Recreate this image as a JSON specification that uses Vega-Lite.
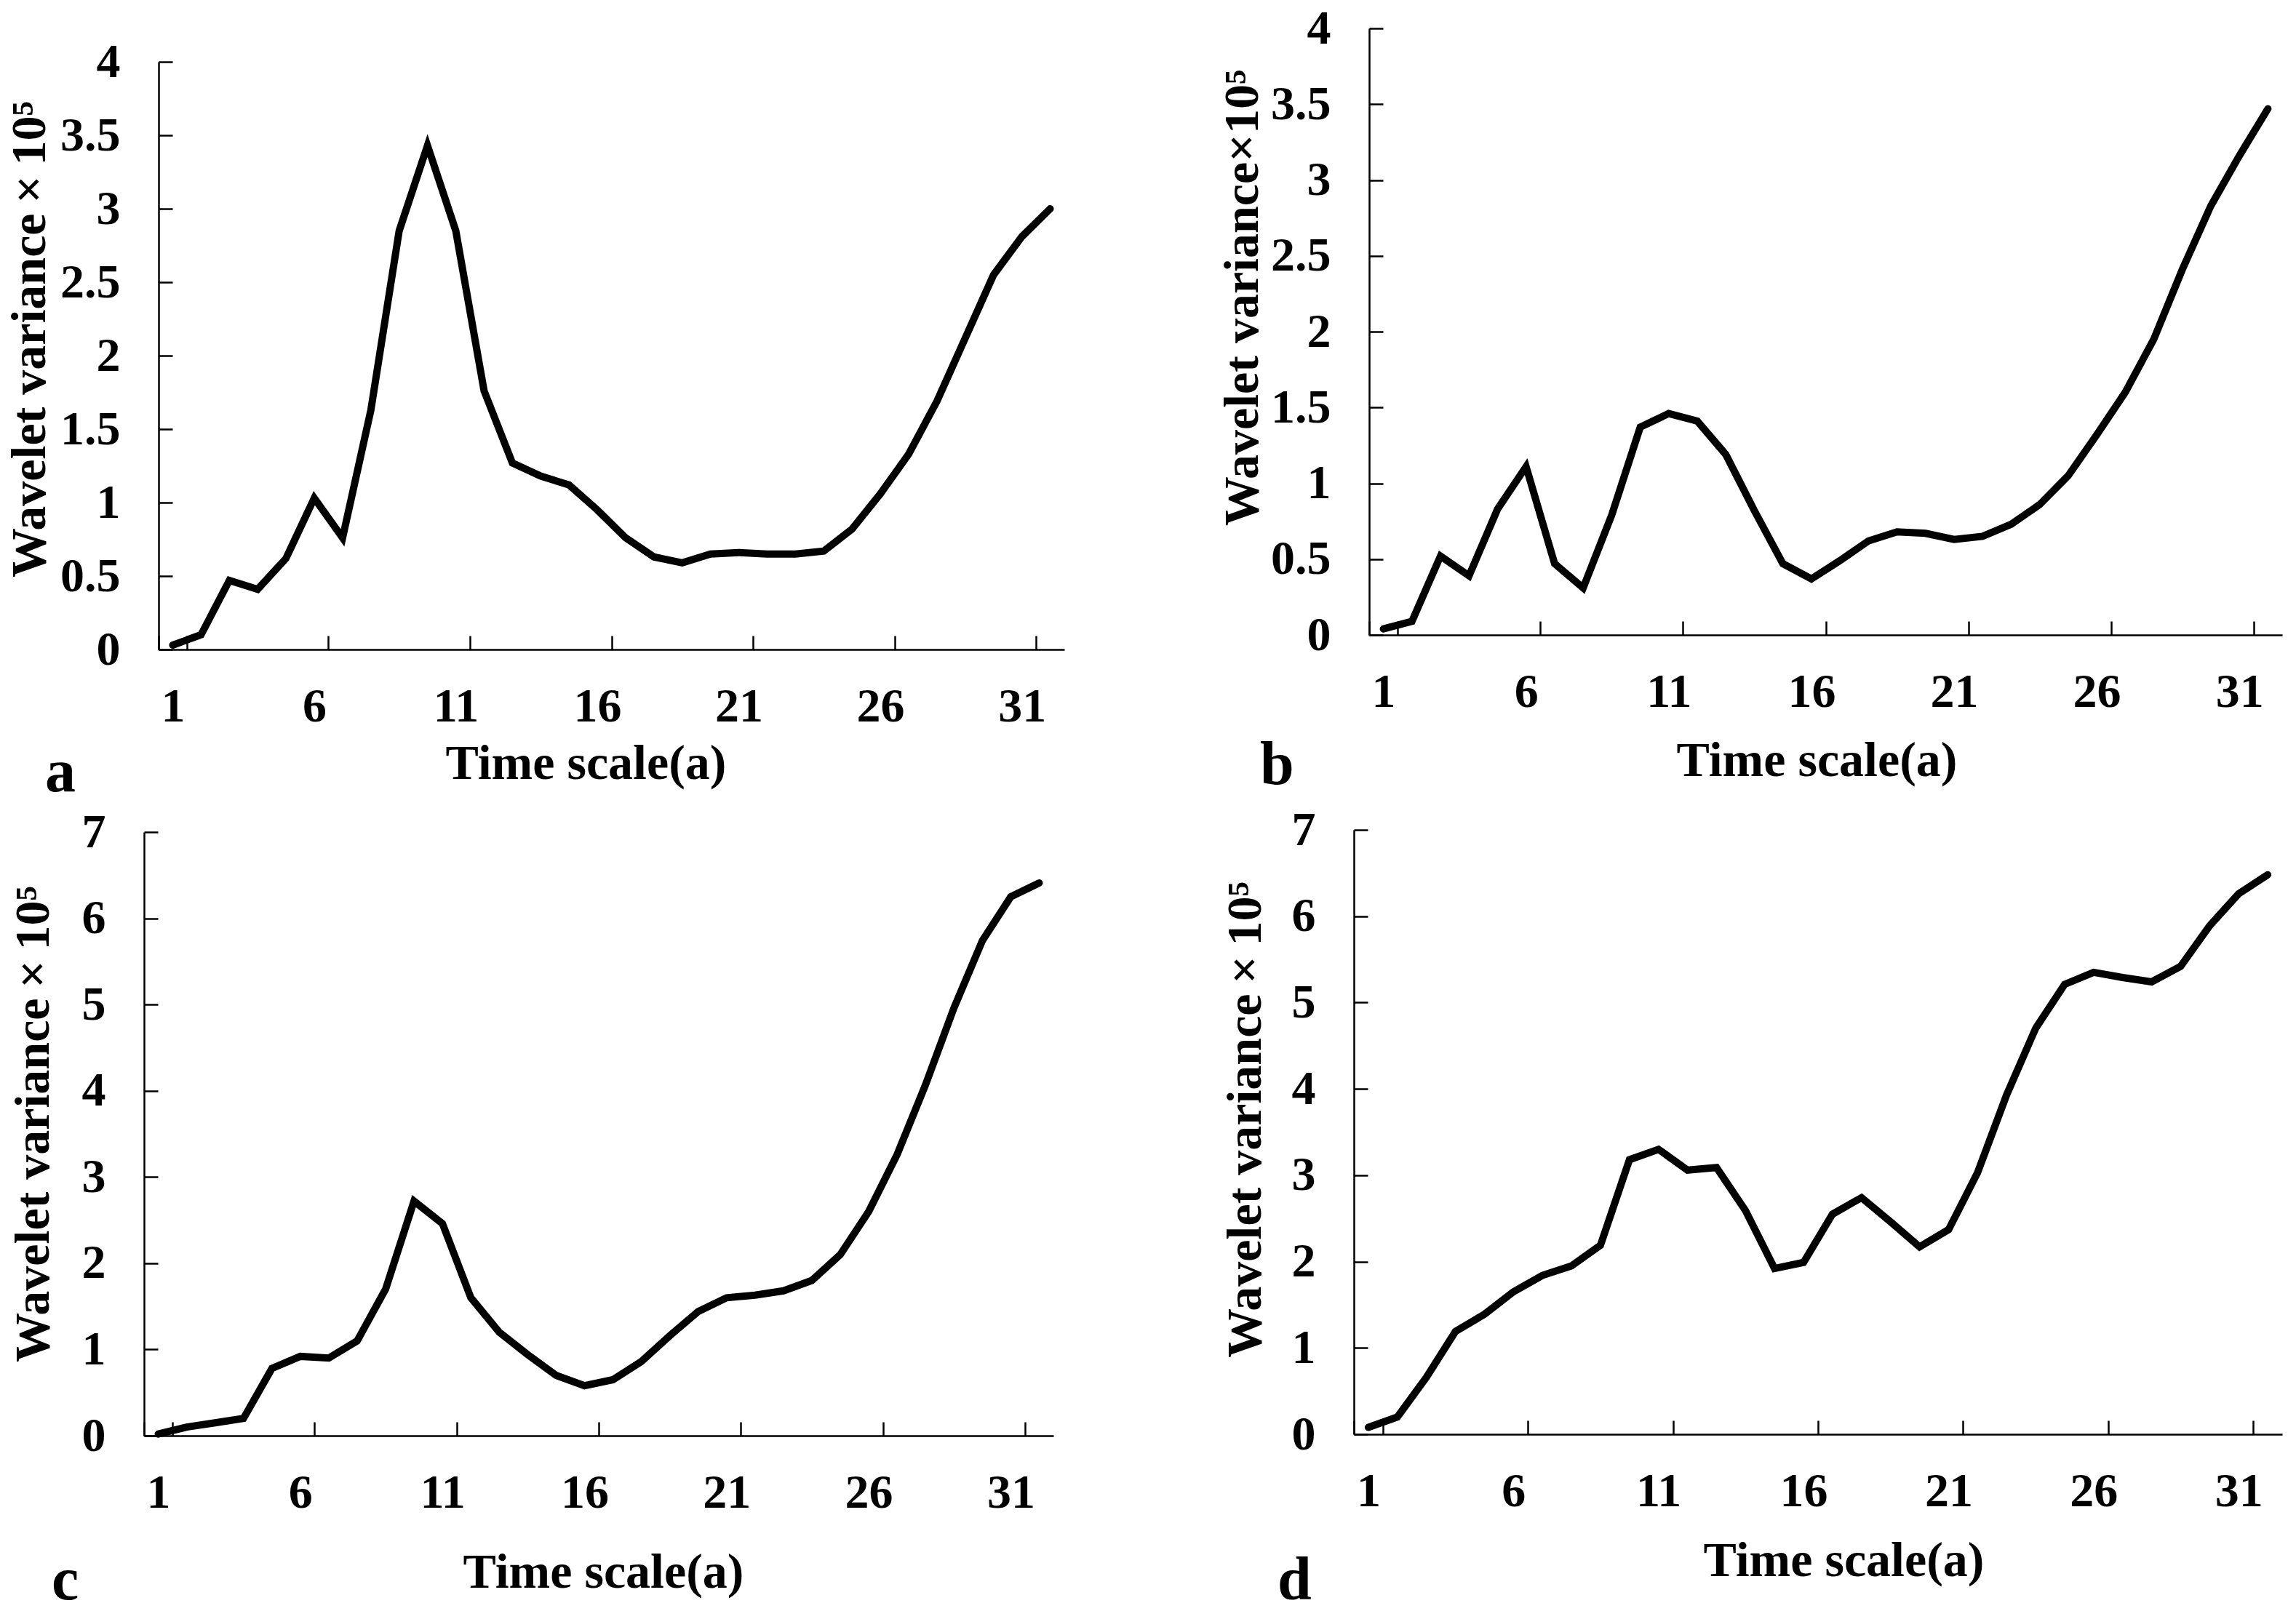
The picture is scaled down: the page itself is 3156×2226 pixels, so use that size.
{
 "$schema": "https://vega.github.io/schema/vega-lite/v6.json",
 "padding": {"left": 7, "top": 6, "right": 0, "bottom": 0},
 "background": "white",
 "config": {
   "font": "Liberation Serif",
   "view": {"stroke": null},
   "axis": {"grid": false, "domainColor": "black", "domainWidth": 2.5, "tickColor": "black", "tickWidth": 2.5, "tickSize": -19, "labelFont": "Liberation Serif", "labelFontSize": 66, "labelFontWeight": "bold", "labelColor": "black", "titleFont": "Liberation Serif", "titleFontSize": 68, "titleFontWeight": "bold", "titleColor": "black"},
   "axisX": {"labelPadding": 65, "labelAngle": 0},
   "axisY": {"labelPadding": 72},
   "title": {"font": "Liberation Serif", "fontSize": 84, "fontWeight": "bold", "color": "black", "orient": "bottom", "anchor": "start", "frame": "bounds"},
   "line": {"color": "black", "strokeWidth": 10, "strokeCap": "round"}
 },
 "spacing": 206,
 "hconcat": [
  {"columns": 1, "align": "none", "spacing": 6, "concat": [
   {"data": {"name": "a"}, "width": 1245, "height": 854,
    "title": {"text": "a", "dx": 55, "dy": -66},
    "mark": "line",
    "encoding": {
     "x": {"field": "t", "type": "ordinal", "bandPosition": 0.5, "scale": {"type": "band", "paddingInner": 0, "paddingOuter": 0},
           "axis": {"values": [1,6,11,16,21,26,31], "tickBand": "extent", "title": "Time scale(a)", "titlePadding": 12, "titleX": 587}},
     "y": {"field": "v", "type": "quantitative", "scale": {"domain": [0,4], "range": [854, 46]},
           "axis": {"values": [0,0.5,1,1.5,2,2.5,3,3.5,4], "format": "~g", "title": "Wavelet variance\u2009\u00d7\u200910\u2075", "titlePadding": 7.5, "titleY": 427}}
    }},
   {"data": {"name": "c"}, "width": 1230, "height": 830,
    "title": {"text": "c", "dx": 59, "dy": -67},
    "mark": "line",
    "encoding": {
     "x": {"field": "t", "type": "ordinal", "bandPosition": 0.5, "scale": {"type": "band", "paddingInner": 0, "paddingOuter": 0, "range": [-20, 1230]},
           "axis": {"values": [1,6,11,16,21,26,31], "tickBand": "extent", "title": "Time scale(a)", "titlePadding": 43, "titleX": 611}},
     "y": {"field": "v", "type": "quantitative", "scale": {"domain": [0,7]},
           "axis": {"values": [0,1,2,3,4,5,6,7], "format": "~g", "offset": 20, "title": "Wavelet variance\u2009\u00d7\u200910\u2075", "titlePadding": 32, "titleY": 401}}
    }}
  ]},
  {"columns": 1, "align": "none", "spacing": 13, "concat": [
   {"data": {"name": "b"}, "width": 1255, "height": 834,
    "title": {"text": "b", "dx": 58, "dy": -72},
    "mark": "line",
    "encoding": {
     "x": {"field": "t", "type": "ordinal", "bandPosition": 0.5, "scale": {"type": "band", "paddingInner": 0, "paddingOuter": 0},
           "axis": {"values": [1,6,11,16,21,26,31], "tickBand": "extent", "title": "Time scale(a)", "titlePadding": 28, "titleX": 615}},
     "y": {"field": "v", "type": "quantitative", "scale": {"domain": [0,4]},
           "axis": {"values": [0,0.5,1,1.5,2,2.5,3,3.5,4], "format": "~g", "title": "Wavelet variance\u00d710\u2075", "titlePadding": 4.5, "titleY": 370}}
    }},
   {"data": {"name": "d"}, "width": 1255, "height": 831,
    "title": {"text": "d", "dx": 78, "dy": -51},
    "mark": "line",
    "encoding": {
     "x": {"field": "t", "type": "ordinal", "bandPosition": 0.5, "scale": {"type": "band", "paddingInner": 0, "paddingOuter": 0, "range": [-21, 1255]},
           "axis": {"values": [1,6,11,16,21,26,31], "tickBand": "extent", "title": "Time scale(a)", "titlePadding": 29, "titleX": 652}},
     "y": {"field": "v", "type": "quantitative", "scale": {"domain": [0,7]},
           "axis": {"values": [0,1,2,3,4,5,6,7], "format": "~g", "offset": 21, "title": "Wavelet variance\u2009\u00d7\u200910\u2075", "titlePadding": 29, "titleY": 398}}
    }}
  ]}
 ],
 "datasets": {
  "a": [{"t":1,"v":0.03},{"t":2,"v":0.10},{"t":3,"v":0.47},{"t":4,"v":0.41},{"t":5,"v":0.62},{"t":6,"v":1.03},{"t":7,"v":0.76},{"t":8,"v":1.63},{"t":9,"v":2.85},{"t":10,"v":3.43},{"t":11,"v":2.85},{"t":12,"v":1.76},{"t":13,"v":1.27},{"t":14,"v":1.18},{"t":15,"v":1.12},{"t":16,"v":0.95},{"t":17,"v":0.76},{"t":18,"v":0.63},{"t":19,"v":0.59},{"t":20,"v":0.65},{"t":21,"v":0.66},{"t":22,"v":0.65},{"t":23,"v":0.65},{"t":24,"v":0.67},{"t":25,"v":0.82},{"t":26,"v":1.06},{"t":27,"v":1.33},{"t":28,"v":1.69},{"t":29,"v":2.12},{"t":30,"v":2.55},{"t":31,"v":2.81},{"t":32,"v":3.0}],
  "b": [{"t":1,"v":0.04},{"t":2,"v":0.09},{"t":3,"v":0.52},{"t":4,"v":0.39},{"t":5,"v":0.83},{"t":6,"v":1.11},{"t":7,"v":0.47},{"t":8,"v":0.31},{"t":9,"v":0.79},{"t":10,"v":1.37},{"t":11,"v":1.46},{"t":12,"v":1.41},{"t":13,"v":1.19},{"t":14,"v":0.82},{"t":15,"v":0.47},{"t":16,"v":0.37},{"t":17,"v":0.49},{"t":18,"v":0.62},{"t":19,"v":0.68},{"t":20,"v":0.67},{"t":21,"v":0.63},{"t":22,"v":0.65},{"t":23,"v":0.73},{"t":24,"v":0.86},{"t":25,"v":1.05},{"t":26,"v":1.32},{"t":27,"v":1.60},{"t":28,"v":1.95},{"t":29,"v":2.41},{"t":30,"v":2.83},{"t":31,"v":3.16},{"t":32,"v":3.47}],
  "c": [{"t":1,"v":0.02},{"t":2,"v":0.10},{"t":3,"v":0.15},{"t":4,"v":0.20},{"t":5,"v":0.78},{"t":6,"v":0.92},{"t":7,"v":0.90},{"t":8,"v":1.10},{"t":9,"v":1.70},{"t":10,"v":2.72},{"t":11,"v":2.46},{"t":12,"v":1.60},{"t":13,"v":1.20},{"t":14,"v":0.94},{"t":15,"v":0.70},{"t":16,"v":0.58},{"t":17,"v":0.65},{"t":18,"v":0.86},{"t":19,"v":1.16},{"t":20,"v":1.44},{"t":21,"v":1.60},{"t":22,"v":1.63},{"t":23,"v":1.68},{"t":24,"v":1.80},{"t":25,"v":2.10},{"t":26,"v":2.60},{"t":27,"v":3.26},{"t":28,"v":4.07},{"t":29,"v":4.96},{"t":30,"v":5.74},{"t":31,"v":6.25},{"t":32,"v":6.41}],
  "d": [{"t":1,"v":0.08},{"t":2,"v":0.20},{"t":3,"v":0.66},{"t":4,"v":1.19},{"t":5,"v":1.39},{"t":6,"v":1.65},{"t":7,"v":1.84},{"t":8,"v":1.95},{"t":9,"v":2.19},{"t":10,"v":3.18},{"t":11,"v":3.30},{"t":12,"v":3.06},{"t":13,"v":3.09},{"t":14,"v":2.59},{"t":15,"v":1.92},{"t":16,"v":1.99},{"t":17,"v":2.55},{"t":18,"v":2.74},{"t":19,"v":2.46},{"t":20,"v":2.17},{"t":21,"v":2.37},{"t":22,"v":3.03},{"t":23,"v":3.93},{"t":24,"v":4.70},{"t":25,"v":5.21},{"t":26,"v":5.35},{"t":27,"v":5.29},{"t":28,"v":5.24},{"t":29,"v":5.42},{"t":30,"v":5.89},{"t":31,"v":6.26},{"t":32,"v":6.48}]
 }
}
